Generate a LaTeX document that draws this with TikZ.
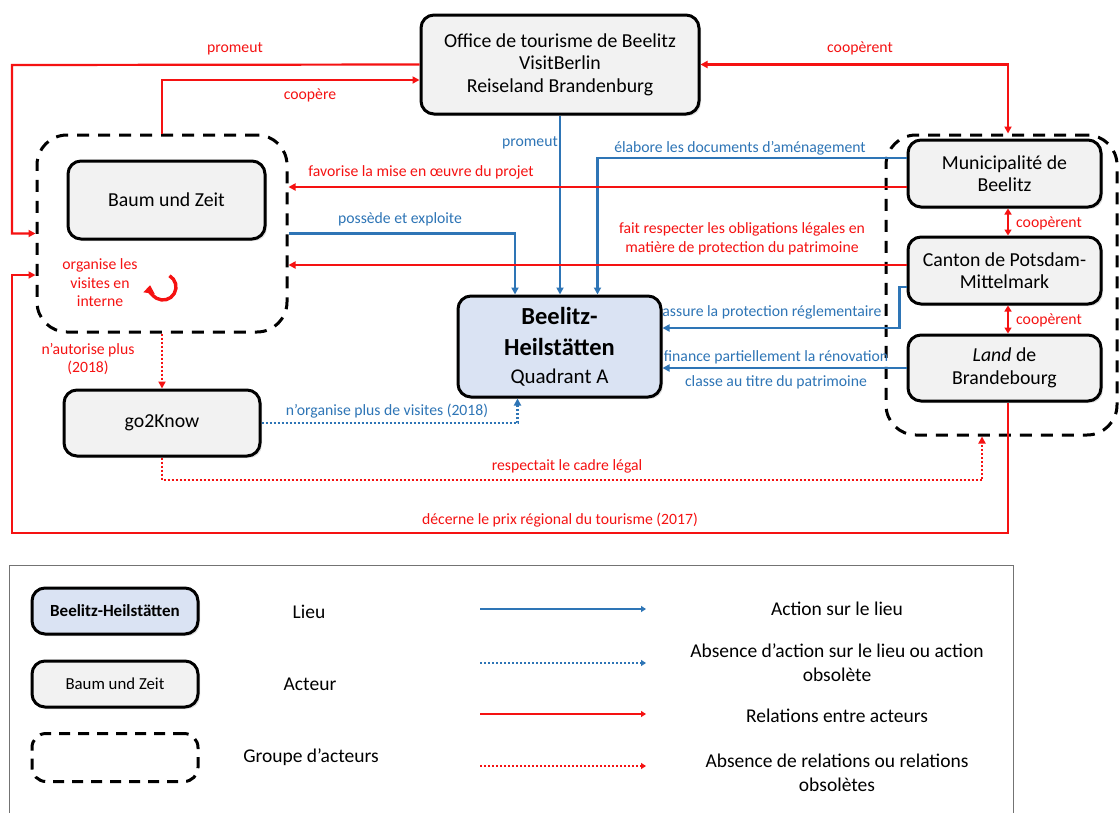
\documentclass[tikz,border=0pt]{standalone}
\usepackage{fontspec}
\setmainfont{Carlito}
\usetikzlibrary{arrows.meta,shadows,calc}
\definecolor{myred}{RGB}{245,18,18}
\definecolor{myblue}{RGB}{46,117,182}
\definecolor{boxgray}{RGB}{242,242,242}
\definecolor{boxblue}{RGB}{218,227,243}
\begin{document}
\begin{tikzpicture}[x=1pt,y=-1pt,
  actor/.style={draw=black, line width=3pt, rounded corners=13pt, fill=boxgray,
    drop shadow={opacity=0.25, shadow xshift=2pt, shadow yshift=-2pt},
    align=center, inner sep=0pt, font=\fontsize{19.8}{22.5}\selectfont},
  lieu/.style={actor, fill=boxblue},
  grp/.style={draw=black, line width=3pt, dash pattern=on 12pt off 9pt, rounded corners=30pt, inner sep=0pt},
  tip/.style={-{Triangle[length=7pt,width=7pt]}},
  rel/.style={draw=myred, line width=2.2pt, tip},
  act/.style={draw=myblue, line width=2.2pt, tip},
  dotrel/.style={rel, line width=2.5pt, dash pattern=on 2pt off 2pt},
  dotact/.style={act, line width=2.5pt, dash pattern=on 2pt off 2pt},
  rl/.style={text=myred, font=\fontsize{15.7}{18.5}\selectfont, align=center, inner sep=0pt},
  bl/.style={text=myblue, font=\fontsize{15.7}{18.5}\selectfont, align=center, inner sep=0pt},
  leg/.style={font=\fontsize{19.5}{24}\selectfont, align=center, inner sep=0pt}
]
\useasboundingbox (0,0) rectangle (1120,812);
\fill[white] (0,0) rectangle (1120,812);

% groups
\node[grp, minimum width=250pt, minimum height=197pt] (lgroup) at (162,233.5) {};
\node[grp, minimum width=231pt, minimum height=300pt] (rgroup) at (1001.5,285) {};

% actor boxes
\node[actor, minimum width=278pt, minimum height=99pt] (office) at (560,64.5)
  {Office de tourisme de Beelitz\\VisitBerlin\\Reiseland Brandenburg};
\node[actor, minimum width=197pt, minimum height=78pt] (baum) at (166.5,200) {Baum und Zeit};
\node[actor, minimum width=196pt, minimum height=66pt] (go2know) at (162,423) {go2Know};
\node[actor, minimum width=193pt, minimum height=67pt] (muni) at (1004.5,173.5) {Municipalité de\\Beelitz};
\node[actor, minimum width=193pt, minimum height=67pt] (canton) at (1004.5,270.5) {Canton de Potsdam-\\Mittelmark};
\node[actor, minimum width=193pt, minimum height=66pt] (land) at (1004.5,368) {\textit{Land} de\\Brandebourg};
\node[lieu, minimum width=203pt, minimum height=101pt, font=\fontsize{24}{31}\selectfont] (beelitz) at (559.5,346.5)
  {{\fontsize{24.5}{31}\selectfont\bfseries Beelitz-}\\{\fontsize{24.5}{31}\selectfont\bfseries Heilstätten}\\[-3pt]{\fontsize{21}{26}\selectfont Quadrant A}};

% helper coordinates
\coordinate (pL) at (12,65);
\coordinate (fav) at ([yshift=-13.5pt]muni.west);
\coordinate (fr) at ([yshift=5.5pt]canton.west);
\coordinate (as1) at ([yshift=-16.5pt]canton.west);
\coordinate (as2) at ([xshift=-7pt]as1);
\coordinate (resp) at (0,480);
\coordinate (dec) at (0,533);
\coordinate (ls) at ([xshift=3.5pt]land.south);
\coordinate (circ) at (163,287);

% connectors
\draw[rel] (office.west) -- (pL) |- (lgroup.west);
\draw[rel] (lgroup.north) |- ([yshift=-15.5pt]office.west);
\draw[rel, {Triangle[length=7pt,width=7pt]}-{Triangle[length=7pt,width=7pt]}] (office.east) -| ([xshift=6.5pt]rgroup.north);
\draw[act] (office.south) -- (office.south |- beelitz.north);
\draw[act] ([yshift=15.5pt]muni.west) -| ([xshift=38pt]beelitz.north);
\draw[rel] (fav) -- (lgroup.east |- fav);
\draw[act] (lgroup.east) -| ([xshift=-44.5pt]beelitz.north);
\draw[rel] (fr) -- (lgroup.east |- fr);
\draw[act] (as1) -- (as2) |- ([yshift=18.5pt]beelitz.east);
\draw[act] (land.west) -- (beelitz.east |- land.west);
\draw[rel, {Triangle[length=6pt,width=7pt]}-{Triangle[length=6pt,width=7pt]}] ([xshift=3.5pt]muni.south) -- ([xshift=3.5pt]canton.north);
\draw[rel, {Triangle[length=6pt,width=7pt]}-{Triangle[length=6pt,width=7pt]}] ([xshift=3.5pt]canton.south) -- ([xshift=3.5pt]land.north);
\draw[dotrel] (lgroup.south) -- (go2know.north);
\draw[dotact] (go2know.east) -| ([xshift=-42pt]beelitz.south);
\draw[dotrel] (go2know.south) -- (go2know.south |- resp) -| ([xshift=-19.5pt]rgroup.south);
\draw[rel] (ls) -- (ls |- dec) -- (pL |- dec) |- ([yshift=-41.5pt]lgroup.west);
\draw[myred, line width=3.4pt, -{Triangle[length=8pt,width=11pt]}] ([shift={(60:13pt)}]circ) arc[start angle=60, end angle=-188, radius=13pt];

% labels
\node[rl] (l1) at (235,49) {promeut};
\node[rl] (l2) at (310,95) {coopère};
\node[rl] (l3) at (860,48) {coopèrent};
\node[bl] (l4) at (530,143) {promeut};
\node[bl] (l5) at (740,148) {élabore les documents d’aménagement};
\node[rl] (l6) at (421,172) {favorise la mise en œuvre du projet};
\node[bl] (l7) at (400,219) {possède et exploite};
\node[rl] (l8) at (742,239) {fait respecter les obligations légales en\\matière de protection du patrimoine};
\node[bl] (l9) at (772,312) {assure la protection réglementaire};
\node[bl] (l10) at (776,357) {finance partiellement la rénovation};
\node[bl] (l11) at (776,382) {classe au titre du patrimoine};
\node[rl] (l12) at (1049,223) {coopèrent};
\node[rl] (l13) at (1049,320) {coopèrent};
\node[rl] (l14) at (100,283) {organise les\\visites en\\interne};
\node[rl] (l15) at (88,359) {n’autorise plus\\(2018)};
\node[bl] (l16) at (387,411) {n’organise plus de visites (2018)};
\node[rl] (l17) at (567,466) {respectait le cadre légal};
\node[rl] (l18) at (560,520) {décerne le prix régional du tourisme (2017)};

% legend
\draw[draw=black!55, line width=1pt] (9,565) rectangle (1013,830);
\node[lieu, minimum width=166pt, minimum height=46pt, font=\fontsize{17}{19}\selectfont\bfseries] (kl) at (115,611) {Beelitz-Heilstätten};
\node[actor, minimum width=166pt, minimum height=46pt, font=\fontsize{16.8}{19}\selectfont] (ka) at (115,684) {Baum und Zeit};
\node[grp, rounded corners=14pt, dash pattern=on 11pt off 8pt, minimum width=166pt, minimum height=48pt] (kg) at (115,757.5) {};
\node[leg] (t1) at (309,612) {Lieu};
\node[leg] (t2) at (310,684) {Acteur};
\node[leg] (t3) at (311,757) {Groupe d’acteurs};
\coordinate (a1) at (480,609); \coordinate (b1) at (646,609);
\coordinate (a2) at (480,663); \coordinate (b2) at (646,663);
\coordinate (a3) at (480,714); \coordinate (b3) at (646,714);
\coordinate (a4) at (480,766); \coordinate (b4) at (646,766);
\draw[act, -{Triangle[length=5pt,width=6pt]}] (a1) -- (b1);
\draw[dotact, line width=2pt, -{Triangle[length=5pt,width=6pt]}] (a2) -- (b2);
\draw[rel, -{Triangle[length=5pt,width=6pt]}] (a3) -- (b3);
\draw[dotrel, line width=2pt, -{Triangle[length=5pt,width=6pt]}] (a4) -- (b4);
\node[leg] (t4) at (837,609) {Action sur le lieu};
\node[leg] (t5) at (837,663) {Absence d’action sur le lieu ou action\\obsolète};
\node[leg] (t6) at (837,716) {Relations entre acteurs};
\node[leg] (t7) at (837,773) {Absence de relations ou relations\\obsolètes};
\end{tikzpicture}
\end{document}
